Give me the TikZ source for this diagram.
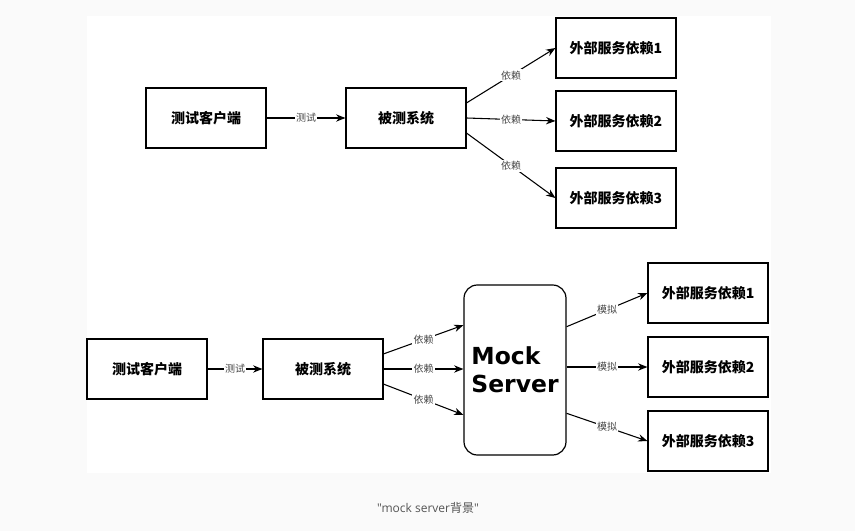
\documentclass[tikz,border=0pt]{standalone}
\usepackage{fontspec}
\setmainfont{DejaVu Sans}
\newfontfamily\cjk{Noto Sans CJK SC}
\newfontfamily\unterfont{Open Sans}
\usetikzlibrary{arrows.meta}
\definecolor{rand}{RGB}{250,250,250}
\definecolor{marke}{RGB}{70,70,70}
\definecolor{unterschrift}{RGB}{85,85,85}

\begin{document}
\begin{tikzpicture}[x=0.75pt, y=-0.75pt,
    kasten/.style={draw=black, line width=0.9pt, minimum width=90pt, minimum height=45pt, inner sep=0pt, font=\cjk\bfseries\fontsize{10.5}{12}\selectfont},
    pfeil/.style={line width=0.8pt, -{Stealth[length=7pt, width=5.5pt]}},
    beschr/.style={fill=white, text=marke, inner sep=1pt, font=\cjk\fontsize{7.5}{9}\selectfont}]

    % Rahmen
    \fill[rand] (0,0) rectangle (855,531);
    \fill[white] (87,16) rectangle (771,473);

    % oben: ohne Mock
    \node[kasten] (klient1) at (206,118) {测试客户端};
    \node[kasten] (system1) at (406,118) {被测系统};
    \node[kasten] (dienstA1) at (616,48) {外部服务依赖1};
    \node[kasten] (dienstA2) at (616,121) {外部服务依赖2};
    \node[kasten] (dienstA3) at (616,198) {外部服务依赖3};

    \draw[pfeil] (klient1) -- node[beschr] {测试} (system1);
    \draw[pfeil] (system1.14) -- node[beschr] {依赖} (dienstA1.west);
    \draw[pfeil] (system1.east) -- node[beschr] {依赖} (dienstA2.west);
    \draw[pfeil] (system1.-14) -- node[beschr] {依赖} (dienstA3.west);

    % unten: mit Mock Server
    \node[kasten] (klient2) at (147,369) {测试客户端};
    \node[kasten] (system2) at (323,369) {被测系统};
    \node[draw=black, line width=0.9pt, rounded corners=10pt, minimum width=76.5pt, minimum height=127.5pt, align=left, font=\bfseries\fontsize{17.6}{21}\selectfont] (mock) at (515,370) {Mock\\Server};
    \node[kasten] (dienstB1) at (708,293) {外部服务依赖1};
    \node[kasten] (dienstB2) at (708,367) {外部服务依赖2};
    \node[kasten] (dienstB3) at (708,441) {外部服务依赖3};

    \draw[pfeil] (klient2) -- node[beschr] {测试} (system2);
    \draw[pfeil] (system2.14) -- node[beschr] {依赖} (mock.139);
    \draw[pfeil] (system2.east) -- node[beschr] {依赖} (mock.west |- system2.east);
    \draw[pfeil] (system2.-14) -- node[beschr] {依赖} (mock.-139);
    \draw[pfeil] (mock.40) -- node[beschr] {模拟} (dienstB1.west);
    \draw[pfeil] (mock.east |- dienstB2.west) -- node[beschr] {模拟} (dienstB2.west);
    \draw[pfeil] (mock.-40) -- node[beschr] {模拟} (dienstB3.west);

    \node[text=unterschrift, font=\unterfont\fontsize{9}{11}\selectfont] (titel) at (428,508) {\symbol{34}mock server{\cjk 背景}\symbol{34}};

\end{tikzpicture}
\end{document}
